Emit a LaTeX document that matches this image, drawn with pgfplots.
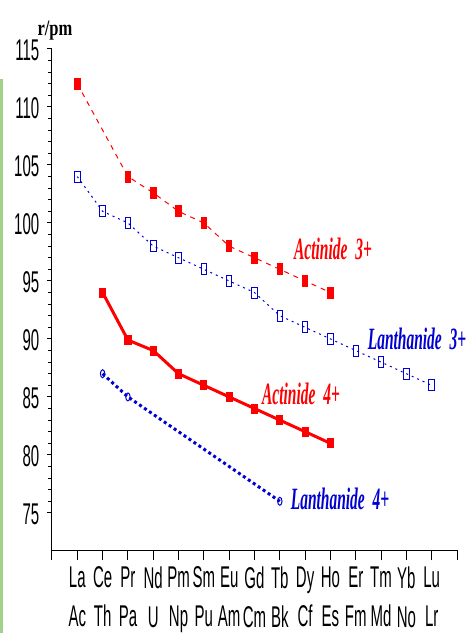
\documentclass[border=0pt]{standalone}
\usepackage{pgfplots}
\pgfplotsset{compat=1.18}
\usepackage{fontspec}
\newfontfamily\narrowsans[FakeStretch=0.5]{Liberation Sans}
\newfontfamily\narrowserif[FakeStretch=0.5]{Liberation Serif}
\newfontfamily\rpmfont[FakeStretch=0.75]{Liberation Serif}
\definecolor{myred}{RGB}{255,0,0}
\definecolor{myblue}{RGB}{0,0,210}
\definecolor{mygreen}{RGB}{160,210,140}
\begin{document}
\begin{tikzpicture}
\useasboundingbox (0pt,0pt) rectangle (467pt,633pt);
\fill[mygreen] (0pt,0pt) rectangle (2.5pt,554pt);
\begin{axis}[
  at={(52pt,83pt)}, anchor=origin,
  scale only axis, width=405pt, height=501pt,
  xmin=0, xmax=16, ymin=71.8, ymax=115,
  axis lines=left, axis line style={-, line width=1pt},
  xtick={1,...,15},
  xticklabels={{La\\Ac},{Ce\\Th},{Pr\\Pa},{Nd\\U},{Pm\\Np},{Sm\\Pu},{Eu\\Am},{Gd\\Cm},{Tb\\Bk},{Dy\\Cf},{Ho\\Es},{Er\\Fm},{Tm\\Md},{Yb\\No},{Lu\\Lr}},
  extra x ticks={0,16}, extra x tick labels={},
  ytick={75,80,...,115},
  minor y tick num=4,
  tick align=outside,
  tick style={black, line width=1pt},
  xtick style={/pgfplots/major tick length=10pt},
  ytick style={/pgfplots/major tick length=5pt},
  minor tick length=4pt,
  /pgf/number format/assume math mode=true,
  ticklabel style={font=\narrowsans\fontsize{30}{39}\selectfont},
  xticklabel style={align=center, anchor=north, yshift=-9pt},
  yticklabel style={anchor=east, xshift=-5pt, yshift=-1pt},
  clip=false,
]
% Actinide 3+
\addplot[myred, line width=1pt, dash pattern=on 5pt off 5pt,
  mark=square*, mark size=5.5pt, mark options={solid, xscale=0.5, fill=myred}]
  coordinates {(1,112) (3,104) (4,102.6) (5,101) (6,100) (7,98) (8,97) (9,96) (10,95) (11,94)};
% Lanthanide 3+
\addplot[myblue, line width=1pt, dash pattern=on 2pt off 4pt,
  mark=square, mark size=5.5pt, mark options={solid, xscale=0.5, fill=white}]
  coordinates {(1,104) (2,101) (3,100) (4,98) (5,97) (6,96) (7,95) (8,94) (9,92) (10,91) (11,90) (12,89) (13,88) (14,87) (15,86)};
% Actinide 4+
\addplot[myred, line width=3pt,
  mark=square*, mark size=3.5pt, mark options={solid, xscale=0.6, fill=myred}]
  coordinates {(2,94) (3,89.9) (4,89) (5,87) (6,86) (7,85) (8,84) (9,83) (10,82) (11,81)};
% Lanthanide 4+
\addplot[myblue, line width=3pt, dash pattern=on 3pt off 3pt,
  mark=o, mark size=4pt, mark options={solid, line width=1pt, xscale=0.55, fill=white}]
  coordinates {(2,87) (3,85) (9,76)};
\end{axis}
\node[font=\rpmfont\bfseries\fontsize{22}{24}\selectfont] at (55pt,602pt) {r/pm};
\node[myred, font=\narrowserif\bfseries\itshape\fontsize{31}{33}\selectfont] at (333pt,384pt) {Actinide\ \ 3+};
\node[myblue, font=\narrowserif\bfseries\itshape\fontsize{31}{33}\selectfont] at (417pt,294pt) {Lanthanide\ \ 3+};
\node[myred, font=\narrowserif\bfseries\itshape\fontsize{31}{33}\selectfont] at (301pt,239pt) {Actinide\ \ 4+};
\node[myblue, font=\narrowserif\bfseries\itshape\fontsize{31}{33}\selectfont] at (340pt,134pt) {Lanthanide\ \ 4+};
\end{tikzpicture}
\end{document}
